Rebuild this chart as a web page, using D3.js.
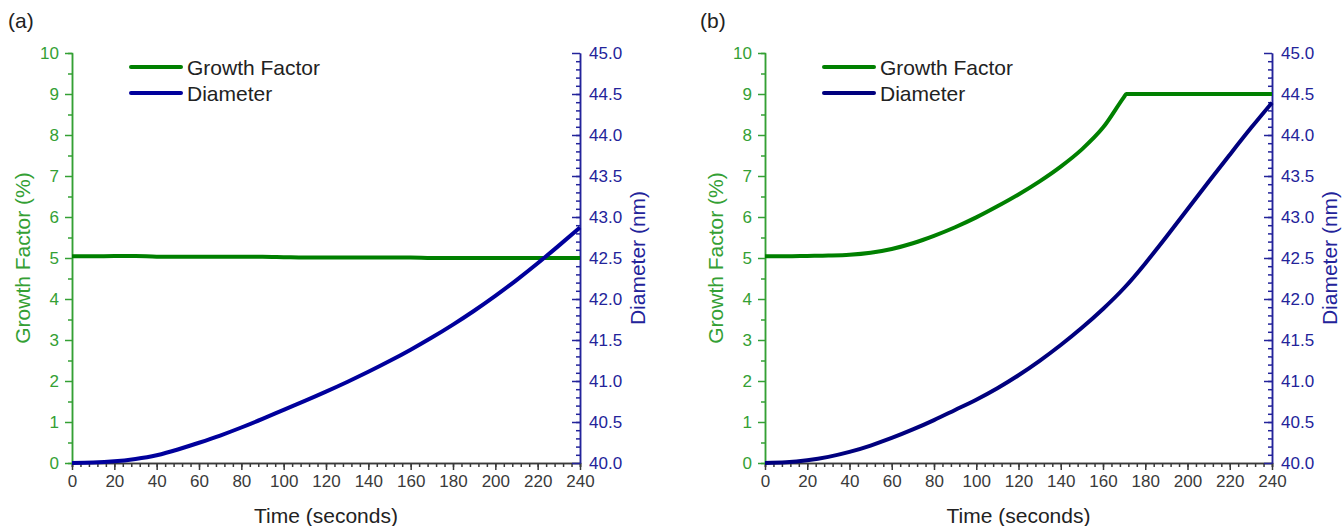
<!DOCTYPE html>
<html>
<head>
<meta charset="utf-8">
<script src="https://cdn.jsdelivr.net/npm/d3@7"></script>
<style>
  body { margin: 0; background: #fff; }
  text { font-family: "Liberation Sans", Arial, sans-serif; }
</style>
</head>
<body>
<script>
// chart.js

	var width = 1344,
        height = 526;

    // Tick labels.
    var timeTicks = [0, 20, 40, 60, 80, 100, 120, 140, 160, 180, 200, 220, 240];
    var growthTicks = [0, 1, 2, 3, 4, 5, 6, 7, 8, 9, 10];
    var diameterTicks = [40.0, 40.5, 41.0, 41.5, 42.0, 42.5, 43.0, 43.5, 44.0, 44.5, 45.0];

    // Panel (a): time in seconds, growth factor in %, diameter in nm.
    var timeA = [0, 10, 20, 30, 40, 50, 60, 70, 80, 90, 100, 110, 120, 130, 140, 150, 160, 170, 180, 190, 200, 210, 220, 230, 240];
    var growthA = [5.04, 5.04, 5.05, 5.05, 5.03, 5.03, 5.03, 5.03, 5.03, 5.03, 5.02, 5.01, 5.01, 5.01, 5.01, 5.01, 5.01, 5.0, 5.0, 5.0, 5.0, 5.0, 5.0, 5.0, 5.0];
    var diameterA = [40.000, 40.005, 40.020, 40.050, 40.095, 40.165, 40.247, 40.335, 40.433, 40.538, 40.648, 40.757, 40.870, 40.988, 41.112, 41.243, 41.382, 41.530, 41.688, 41.857, 42.038, 42.231, 42.436, 42.651, 42.873];

    // Panel (b): growth factor saturates at 9 % near 171 s.
    var timeGrowthB = [0, 10, 20, 30, 40, 50, 60, 70, 80, 90, 100, 110, 120, 130, 140, 150, 160, 170, 171, 180, 190, 200, 210, 220, 230, 240];
    var growthB = [5.04, 5.04, 5.05, 5.06, 5.08, 5.13, 5.22, 5.36, 5.54, 5.75, 5.99, 6.26, 6.55, 6.87, 7.23, 7.65, 8.18, 8.93, 9.0, 9.0, 9.0, 9.0, 9.0, 9.0, 9.0, 9.0];
    var timeDiameterB = [0, 10, 20, 30, 40, 50, 60, 70, 80, 90, 100, 110, 120, 130, 140, 150, 160, 170, 180, 190, 200, 210, 220, 230, 240];
    var diameterB = [40.000, 40.008, 40.033, 40.075, 40.135, 40.213, 40.305, 40.409, 40.523, 40.647, 40.772, 40.912, 41.070, 41.246, 41.439, 41.649, 41.879, 42.134, 42.434, 42.759, 43.094, 43.429, 43.759, 44.084, 44.394];

    var legendNames = ["Growth Factor", "Diameter"];

    var green = "#008000",
        greenAxis = "#34a034",
        blueAxis = "#23239a",
        grey = "#3a3a3a";

    var svg = d3.select("body").append("svg")
                .attr("width", width)
                .attr("height", height);

    var top_y = 53, bottom_y = 463;

    drawPanel({ label: "(a)", labelX: 8, left: 72, right: 580,
                tG: timeA, g: growthA, tD: timeA, d: diameterA, blue: "#00009c" });
    drawPanel({ label: "(b)", labelX: 700, left: 765, right: 1272,
                tG: timeGrowthB, g: growthB, tD: timeDiameterB, d: diameterB, blue: "#00007e" });

    function styleAxis(sel, color, textColor) {
        sel.select(".domain").attr("stroke", color).attr("stroke-width", 1.5);
        sel.selectAll(".tick line").attr("stroke", color).attr("stroke-width", 1.5);
        sel.selectAll(".tick text").attr("fill", textColor)
            .style("font-size", "17px")
            .style("font-family", "'Liberation Sans', Arial, sans-serif");
    }

    function drawPanel(p) {

        var g = svg.append("g");

        var xScale = d3.scaleLinear().domain([0, 240]).range([p.left, p.right]);
        var yGrowth = d3.scaleLinear().domain([0, 10]).range([bottom_y, top_y]);
        var yDiam = d3.scaleLinear().domain([40, 45]).range([bottom_y, top_y]);

        // Minor ticks first, then the major axes on top.
        g.append("g")
            .attr("transform", "translate(0," + bottom_y + ")")
            .call(d3.axisBottom(xScale).tickValues(d3.range(0, 241, 4)).tickSize(4).tickFormat(""))
            .call(styleAxis, grey, grey);

        g.append("g")
            .attr("transform", "translate(0," + bottom_y + ")")
            .call(d3.axisBottom(xScale).tickValues(timeTicks).tickSizeInner(7).tickSizeOuter(0).tickPadding(5))
            .call(styleAxis, grey, grey);

        g.append("g")
            .attr("transform", "translate(" + p.left + ",0)")
            .call(d3.axisLeft(yGrowth).tickValues(d3.range(0.5, 10, 1)).tickSize(4).tickFormat(""))
            .call(styleAxis, greenAxis, greenAxis);

        g.append("g")
            .attr("transform", "translate(" + p.left + ",0)")
            .call(d3.axisLeft(yGrowth).tickValues(growthTicks).tickSizeInner(7).tickSizeOuter(0).tickPadding(6))
            .call(styleAxis, greenAxis, greenAxis);

        // Right axis: ticks point into the plot.
        g.append("g")
            .attr("transform", "translate(" + p.right + ",0)")
            .call(d3.axisRight(yDiam).tickValues(d3.range(40.1, 45, 0.1)).tickSizeInner(-4).tickSizeOuter(0).tickFormat(""))
            .call(styleAxis, blueAxis, blueAxis);

        g.append("g")
            .attr("transform", "translate(" + p.right + ",0)")
            .call(d3.axisRight(yDiam).tickValues(diameterTicks).tickSizeInner(-8).tickSizeOuter(0).tickPadding(9).tickFormat(d3.format(".1f")))
            .call(styleAxis, blueAxis, blueAxis);

        // Axis titles.
        g.append("text")
            .attr("transform", "translate(" + (p.left - 42) + "," + (bottom_y + top_y) / 2 + ") rotate(-90)")
            .style("text-anchor", "middle")
            .style("font-size", "21px")
            .attr("fill", greenAxis)
            .text("Growth Factor (%)");

        g.append("text")
            .attr("transform", "translate(" + (p.right + 65) + "," + (bottom_y + top_y) / 2 + ") rotate(-90)")
            .style("text-anchor", "middle")
            .style("font-size", "21px")
            .attr("fill", blueAxis)
            .text("Diameter (nm)");

        g.append("text")
            .attr("x", (p.left + p.right) / 2)
            .attr("y", 523)
            .style("text-anchor", "middle")
            .style("font-size", "21px")
            .attr("fill", "#222")
            .text("Time (seconds)");

        g.append("text")
            .attr("x", p.labelX)
            .attr("y", 28)
            .style("font-size", "21px")
            .attr("fill", "#222")
            .text(p.label);

        // Data lines: monotone for the growth factor (keeps the corner), natural spline for the diameter.
        var lineG = d3.line()
            .x(function(d) { return xScale(d[0]); })
            .y(function(d) { return yGrowth(d[1]); })
            .curve(d3.curveMonotoneX);

        var lineD = d3.line()
            .x(function(d) { return xScale(d[0]); })
            .y(function(d) { return yDiam(d[1]); })
            .curve(d3.curveNatural);

        g.append("path")
            .datum(d3.zip(p.tG, p.g))
            .attr("d", lineG)
            .attr("fill", "none")
            .attr("stroke", green)
            .attr("stroke-width", 4);

        g.append("path")
            .datum(d3.zip(p.tD, p.d))
            .attr("d", lineD)
            .attr("fill", "none")
            .attr("stroke", p.blue)
            .attr("stroke-width", 4);

        // Legend.
        var legendColors = [green, p.blue];
        var leg = g.selectAll("g.legend").data(legendNames).enter()
            .append("g")
            .attr("class", "legend")
            .attr("transform", function(d, i) { return "translate(" + (p.left + 59) + "," + (67 + i * 26) + ")"; });

        leg.append("line")
            .attr("x1", 0).attr("x2", 50)
            .attr("stroke", function(d, i) { return legendColors[i]; })
            .attr("stroke-width", 4)
            .attr("stroke-linecap", "round");

        leg.append("text")
            .attr("x", 56)
            .attr("y", 7.5)
            .style("font-size", "21px")
            .attr("fill", "#222")
            .text(function(d) { return d; });
    }

</script>
</body>
</html>
